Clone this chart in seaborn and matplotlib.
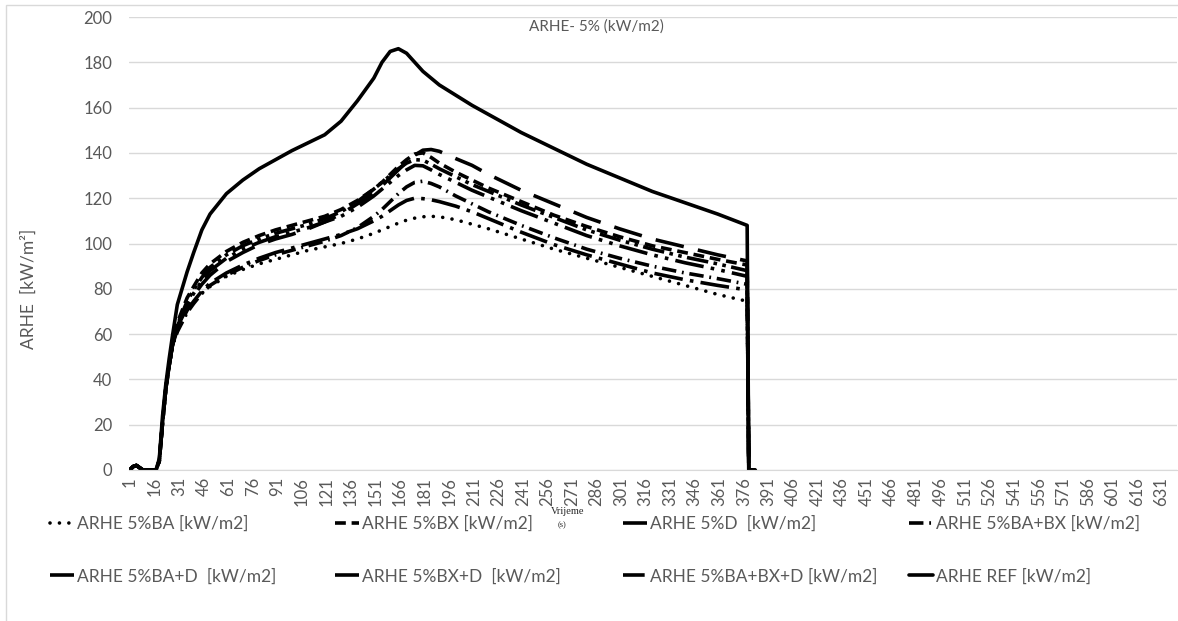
import matplotlib
matplotlib.use("Agg")
import matplotlib.pyplot as plt
from matplotlib.patches import Rectangle
import seaborn as sns

time_s = [1, 3, 5, 7, 9, 17, 19, 21, 23, 25, 27, 30, 36, 40, 45, 50, 60, 70, 80, 90,
          100, 110, 120, 130, 140, 150, 155, 160, 165, 170, 175, 180, 185, 190, 200,
          210, 220, 240, 260, 280, 300, 320, 340, 360, 378, 379, 383]

# common start-up part and the final drop to zero
ramp = [0, 1.5, 2, 1, 0, 0, 4, 21, 36, 46, 55]
drop = [0, 0]

arhe_ba = ramp + [61, 70, 74, 78, 81, 85.5, 88.5, 91, 93, 95, 97, 98.5, 100, 102, 104.5,
                  106, 107.5, 109, 110.3, 111.2, 111.8, 112, 111.8,
                  110.5, 108.5, 106.5, 102, 97.5, 93.5, 89.5, 85.5, 81.5, 77.5, 74.5] + drop
arhe_bx = ramp + [65, 76, 81, 87, 91, 96.5, 100.5, 103.5, 106, 108, 110, 112, 115, 119, 124,
                  127, 130.5, 134, 137, 139.5, 140, 138, 135.5,
                  131.5, 128, 124.5, 118.5, 112.5, 107.5, 103, 99, 96, 93, 90.5] + drop
arhe_d = ramp + [63, 72, 77, 82, 86, 92, 96, 99.5, 102, 104, 106.5, 109.5, 113, 117.5, 122.5,
                 125.5, 129, 132.5, 136, 139, 141.2, 141.5, 140.7,
                 137.5, 134.5, 130.5, 123.5, 117.5, 111.5, 106.5, 102, 98.5, 95, 92.3] + drop
arhe_ba_bx = ramp + [61, 69.5, 73.5, 78, 81.5, 86, 89.5, 92.5, 95, 97, 99, 101, 103.5, 107, 112,
                     115, 118.5, 122, 125, 127, 127.5, 126.5, 125,
                     121, 117.5, 114, 108, 102.5, 97.5, 93.5, 90, 87, 84.5, 82] + drop
arhe_ba_d = ramp + [62, 70.5, 74.5, 79, 82.5, 87, 90.5, 93.5, 96, 98, 100, 102, 104, 106.5, 110,
                    112, 114.5, 117, 119, 120, 119.8, 119.3, 118.5,
                    116.5, 114, 111, 105, 99.5, 95, 91, 87, 84, 81.5, 79.5] + drop
arhe_bx_d = ramp + [63.5, 73, 78, 83.5, 88, 93.5, 97.5, 100.5, 103, 105, 107, 109.5, 112, 116, 121,
                    124, 127, 130, 132.5, 134.5, 134.3, 132.5, 130.5,
                    127, 123.5, 120.5, 114.5, 109, 103.5, 99, 95, 91.5, 88.5, 85.5] + drop
arhe_ba_bx_d = ramp + [64, 74.5, 79.5, 85, 89.5, 95, 99, 102, 104.5, 106.5, 108.5, 111, 114, 118.5, 124,
                       127, 130, 133, 135.5, 137, 136.8, 135, 133,
                       129.5, 126, 123, 117, 111.5, 106, 101.5, 97.5, 94, 91, 88] + drop
arhe_ref = [0, 1.5, 2, 1, 0, 0, 5, 24, 38, 49, 59, 73, 87.5, 96, 106, 113, 122, 128, 133, 137,
            141, 144.5, 148, 154, 163, 173, 180, 184.8, 186, 184, 180, 176, 173, 170,
            165.5, 161, 157, 149, 142, 135, 129, 123, 118, 113, 108, 0, 0]

labels = ["ARHE 5%BA [kW/m2]", "ARHE 5%BX [kW/m2]", "ARHE 5%D  [kW/m2]",
          "ARHE 5%BA+BX [kW/m2]", "ARHE 5%BA+D  [kW/m2]", "ARHE 5%BX+D  [kW/m2]",
          "ARHE 5%BA+BX+D [kW/m2]", "ARHE REF [kW/m2]"]
series = [arhe_ba, arhe_bx, arhe_d, arhe_ba_bx, arhe_ba_d, arhe_bx_d, arhe_ba_bx_d, arhe_ref]
styles = [(0, (0.01, 2.6)), (0, (3, 1.6)), (0, (8, 4)), (0, (4, 1.6, 0.5, 1.6)),
          (0, (8, 2, 1, 2)), (0, (8, 2, 1, 2, 1, 2)), (0, (6, 1.5, 1, 1.5, 1, 1.5)), "-"]

tick_pos = list(range(1, 640, 15))

sns.set_style("white")
plt.rcParams["font.family"] = ["Lato", "DejaVu Sans"]

fig = plt.figure(figsize=(11.78, 6.21), dpi=100)
ax = fig.add_axes([129 / 1178, 1 - 470 / 621, 1048 / 1178, 453 / 621])

for name, vals, ls in zip(labels, series, styles):
    sns.lineplot(x=time_s, y=vals, ax=ax, color="black", linewidth=2.6,
                 linestyle=ls, dash_capstyle="round" if ls == styles[0] else "butt",
                 label=name, legend=False)

ax.set_xlim(0.5, 640.5)
ax.set_ylim(0, 200)
ax.set_yticks(range(0, 201, 20))
ax.set_xticks(tick_pos)
ax.set_xticklabels([str(t) for t in tick_pos], rotation=90)
ax.yaxis.grid(True, color="#d9d9d9", linewidth=1)
ax.set_axisbelow(True)
for s in ["top", "right", "left"]:
    ax.spines[s].set_visible(False)
ax.spines["bottom"].set_color("#d9d9d9")
ax.tick_params(axis="both", length=0, colors="#595959")
ax.tick_params(axis="y", labelsize=12, pad=12)
ax.tick_params(axis="x", labelsize=12, pad=5)

ax.set_xlabel("")
ax.set_ylabel("ARHE  [kW/m²]", fontsize=12.5, color="#595959")
ax.yaxis.set_label_coords(-0.088, 0.40)

fig.text(596 / 1178, 1 - 27 / 621, "ARHE- 5% (kW/m2)", ha="center", va="center",
         fontsize=11, color="#595959")
fig.text(568 / 1178, 1 - 512 / 621, "Vrijeme", ha="center", va="center",
         fontsize=7.5, family="Liberation Serif")
fig.text(558 / 1178, 1 - 525 / 621, "(s)", ha="left", va="center",
         fontsize=6, family="Liberation Serif")

# legend: four columns of two entries, row-wise order as in the original
handles = ax.get_lines()
col_x = [34, 319, 607, 893]
for i, x0 in enumerate(col_x):
    fig.legend([handles[i], handles[i + 4]], [labels[i], labels[i + 4]],
               loc="upper left", bbox_to_anchor=(x0 / 1178, 1 - 500 / 621),
               frameon=False, fontsize=12.5, handlelength=1.4, handletextpad=0.2,
               labelspacing=2.1, labelcolor="#595959")

fig.patches.append(Rectangle((6 / 1178, -0.01), 1.0, 1 - 5 / 621 + 0.01,
                             transform=fig.transFigure, fill=False,
                             edgecolor="#d9d9d9", linewidth=1))

fig.savefig("out.png", dpi=100)
